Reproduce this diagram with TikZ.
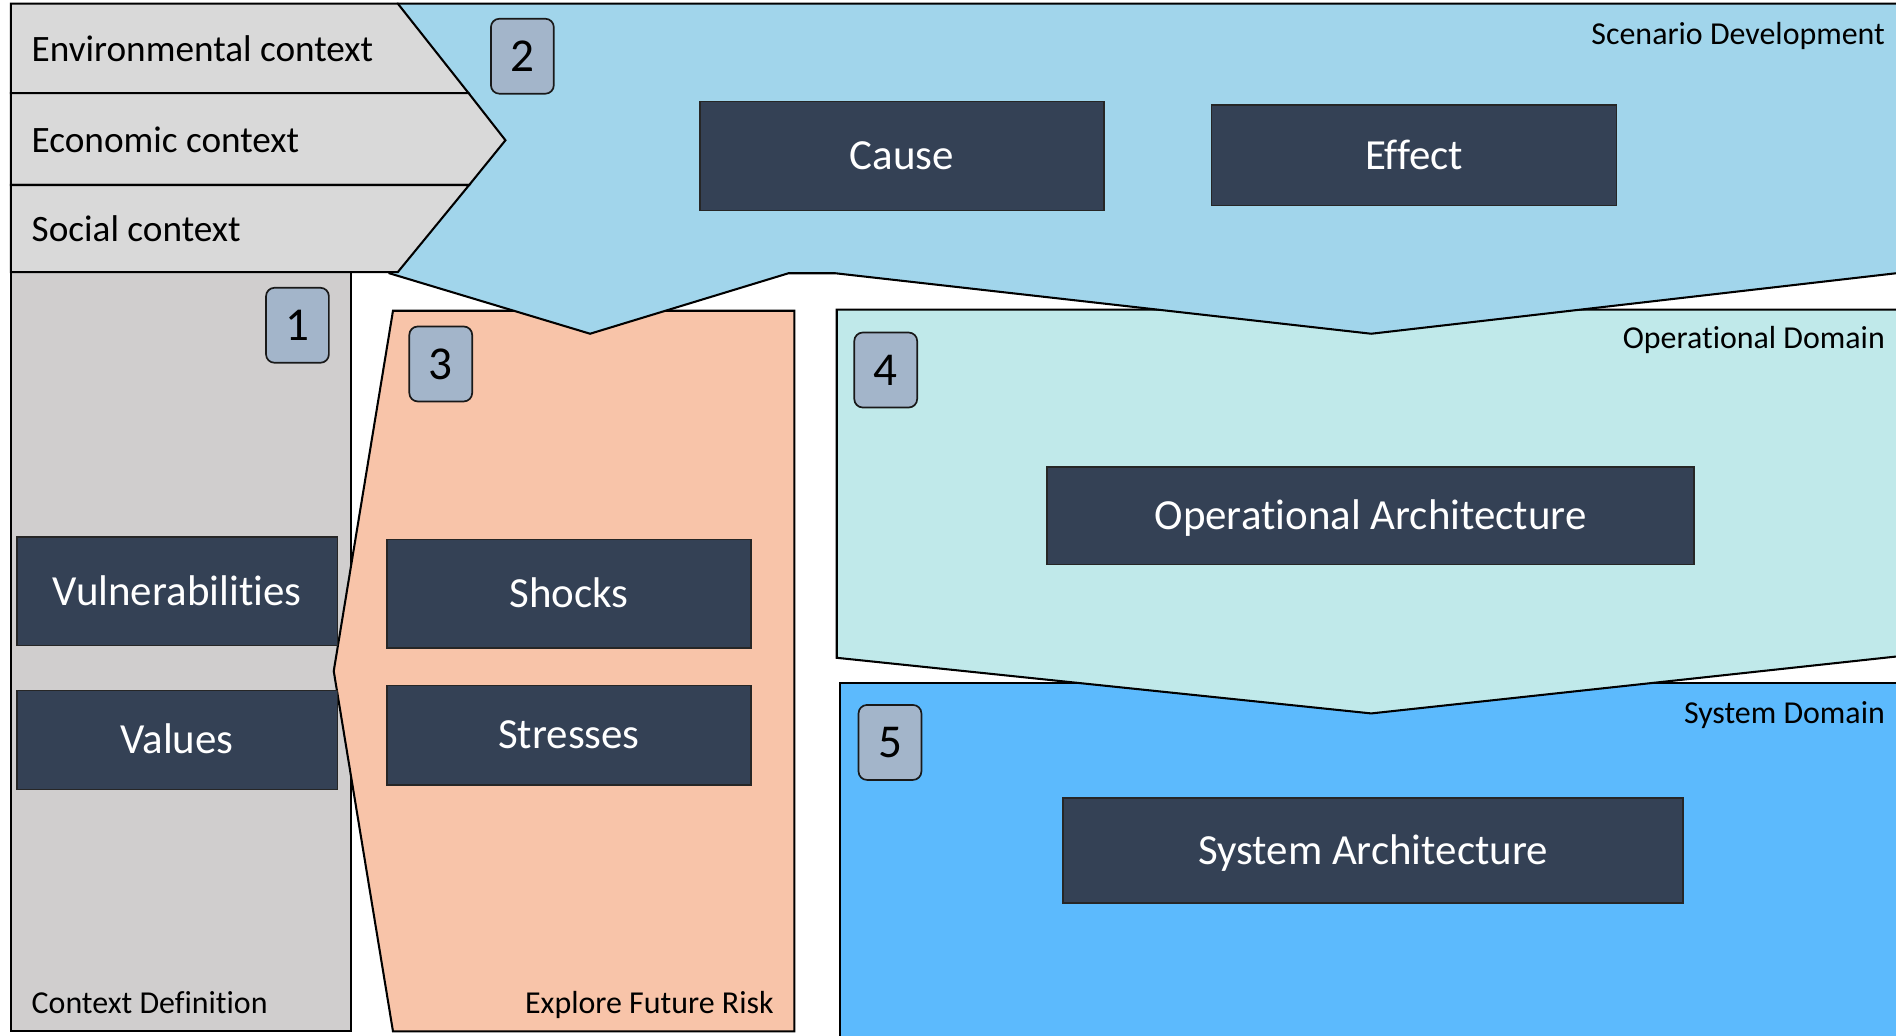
\documentclass[tikz,border=0pt]{standalone}
\usepackage{fontspec}
\setmainfont{Carlito}[Ligatures={NoCommon}]
\definecolor{ctxgrey}{HTML}{D9D9D9}
\definecolor{colgrey}{HTML}{D0CECE}
\definecolor{scenblue}{HTML}{A1D5EB}
\definecolor{riskorange}{HTML}{F8C4A9}
\definecolor{opteal}{HTML}{C0E9EA}
\definecolor{sysblue}{HTML}{5CBAFD}
\definecolor{boxdark}{HTML}{344155}
\definecolor{numfill}{HTML}{A3B5CA}
\begin{document}
\begin{tikzpicture}[x=1pt,y=-1pt,
  region/.style={draw=black, line width=1.7pt, line join=miter},
  darkbox/.style={draw=black!85, line width=1.3pt, fill=boxdark, text=white,
    font=\fontsize{35.5}{42}\selectfont, inner sep=0pt, text height=22.8pt, text depth=0pt},
  numbox/.style={draw=black!90, line width=1.4pt, fill=numfill, rounded corners=7pt,
    minimum width=52pt, minimum height=62pt, inner sep=0pt,
    font=\fontsize{39}{44}\selectfont, text height=25pt, text depth=0pt},
  ctxlabel/.style={anchor=west, inner sep=0pt, font=\fontsize{30.8}{36}\selectfont,
    text height=19.8pt, text depth=0pt},
  arealabel/.style={inner sep=0pt, font=\fontsize{26.4}{31}\selectfont,
    text height=17pt, text depth=0pt}
]
\useasboundingbox (0,0) rectangle (1568,856);
\fill[white] (0,0) rectangle (1568,856);

\begin{scope}
  \clip (0,0) rectangle (1568,856);
  % system domain (5)
  \draw[region, fill=sysblue] (695,565) rectangle (1600,880);
  % operational domain (4), chevron pointing down
  \draw[region, fill=opteal] (692,256) -- (1600,256) -- (1600,539.5)
    -- (1134,590) -- (692,544) -- cycle;
  % context definition column (1)
  \draw[region, fill=colgrey] (9,225) rectangle (290,853);
  % explore future risk (3), arrow pointing left
  \draw[region, fill=riskorange] (325,257) -- (657,257) -- (657,853)
    -- (325,853) -- (276,555) -- cycle;
  % scenario development (2), double chevron pointing down
  \draw[region, fill=scenblue] (329,3) -- (1600,3) -- (1600,222.3)
    -- (1134,276) -- (691,226) -- (652,226) -- (488,276) -- (322,226) -- cycle;
  % context arrows
  \draw[region, fill=ctxgrey] (9,3) -- (329,3) -- (387.5,77) -- (9,77) -- cycle;
  \draw[region, fill=ctxgrey] (9,77) -- (387.5,77) -- (418,116) -- (388,153) -- (9,153) -- cycle;
  \draw[region, fill=ctxgrey] (9,153) -- (388,153) -- (329,225) -- (9,225) -- cycle;
\end{scope}

% context labels
\node[ctxlabel] (envctx) at (26,41) {Environmental context};
\node[ctxlabel] (ecoctx) at (26,116) {Economic context};
\node[ctxlabel] (socctx) at (26,190) {Social context};

% area titles
\node[arealabel, anchor=east] (scenlbl) at (1559,28) {Scenario Development};
\node[arealabel, anchor=east] (oplbl) at (1559,280) {Operational Domain};
\node[arealabel, anchor=east] (syslbl) at (1559,590) {System Domain};
\node[arealabel, anchor=west] (ctxlbl) at (26,830) {Context Definition};
\node[arealabel, anchor=east] (risklbl) at (640,830) {Explore Future Risk};

% step numbers
\node[numbox] (n2) at (432,46.5) {2};
\node[numbox] (n1) at (246,269) {1};
\node[numbox] (n3) at (364.5,301) {3};
\node[numbox] (n4) at (732.5,306) {4};
\node[numbox] (n5) at (736,614) {5};

% content boxes
\node[darkbox, minimum width=334pt, minimum height=90pt] (cause) at (746,129) {Cause};
\node[darkbox, minimum width=335pt, minimum height=83pt] (effect) at (1169.5,128.5) {Effect};
\node[darkbox, minimum width=535pt, minimum height=81pt] (oparch) at (1133.5,426.5) {Operational Architecture};
\node[darkbox, minimum width=265pt, minimum height=90pt] (vuln) at (146.5,489) {Vulnerabilities};
\node[darkbox, minimum width=265pt, minimum height=82pt] (values) at (146.5,612) {Values};
\node[darkbox, minimum width=301pt, minimum height=90pt] (shocks) at (470.5,491) {Shocks};
\node[darkbox, minimum width=301pt, minimum height=82pt] (stresses) at (470.5,608) {Stresses};
\node[darkbox, minimum width=513pt, minimum height=87pt] (sysarch) at (1135.5,703.5) {System Architecture};
\end{tikzpicture}
\end{document}
